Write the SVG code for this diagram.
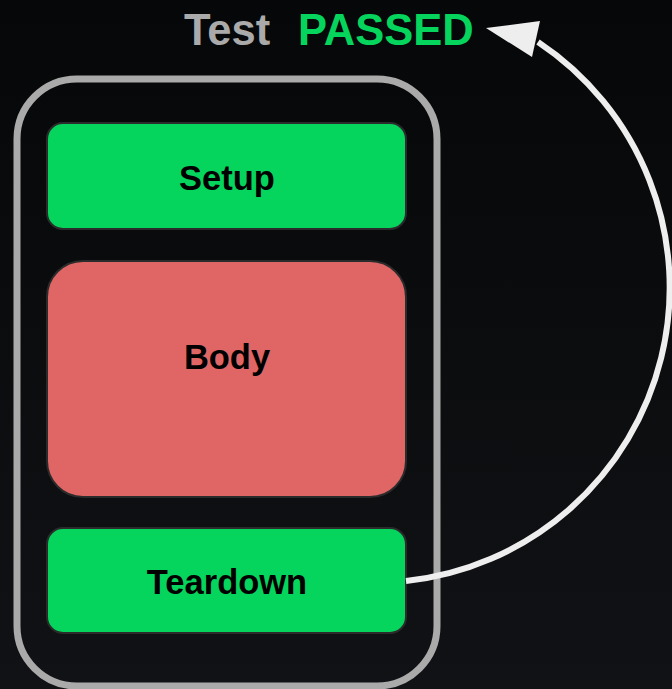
<svg xmlns="http://www.w3.org/2000/svg" width="672" height="689" viewBox="0 0 672 689">
  <defs>
    <linearGradient id="bg" x1="0" y1="0" x2="0" y2="1">
      <stop offset="0" stop-color="#060708"/>
      <stop offset="1" stop-color="#111215"/>
    </linearGradient>
    <style>
      .lbl { font-family: "Liberation Sans", Arial, sans-serif; font-weight: bold; font-size: 34.5px; fill: #000; text-anchor: middle; }
      .title { font-family: "Liberation Sans", Arial, sans-serif; font-weight: bold; font-size: 43.5px; }
      .green { fill: #05d55d; stroke: #2b2b2b; stroke-width: 2; }
      .red { fill: #e06666; stroke: #2b2b2b; stroke-width: 2; }
      .conn { fill: none; stroke: #eeeeee; stroke-width: 6; }
    </style>
  </defs>
  <rect x="0" y="0" width="672" height="689" fill="url(#bg)"/>

  <g id="title">
    <text class="title" x="184" y="45" fill="#aaaaaa">Test</text>
    <text class="title" x="298" y="45" fill="#05d55d">PASSED</text>
  </g>

  <g id="container">
    <rect x="17" y="79" width="420" height="607" rx="60" ry="60" fill="none" stroke="#aaaaaa" stroke-width="7"/>
  </g>

  <g id="setup">
    <rect class="green" x="47" y="123" width="359" height="106" rx="16" ry="16"/>
    <text class="lbl" x="227" y="190">Setup</text>
  </g>

  <g id="body">
    <rect class="red" x="47" y="261" width="359" height="236" rx="36" ry="36"/>
    <text class="lbl" x="227" y="369">Body</text>
  </g>

  <g id="teardown">
    <rect class="green" x="47" y="528" width="359" height="105" rx="16" ry="16"/>
    <text class="lbl" x="227" y="594">Teardown</text>
  </g>

  <g id="connectors">
    <path class="conn" d="M406,581 A295,295 0 0 0 538,42"/>
    <polygon points="486,28 540,21 532,57" fill="#eeeeee"/>
  </g>
</svg>
